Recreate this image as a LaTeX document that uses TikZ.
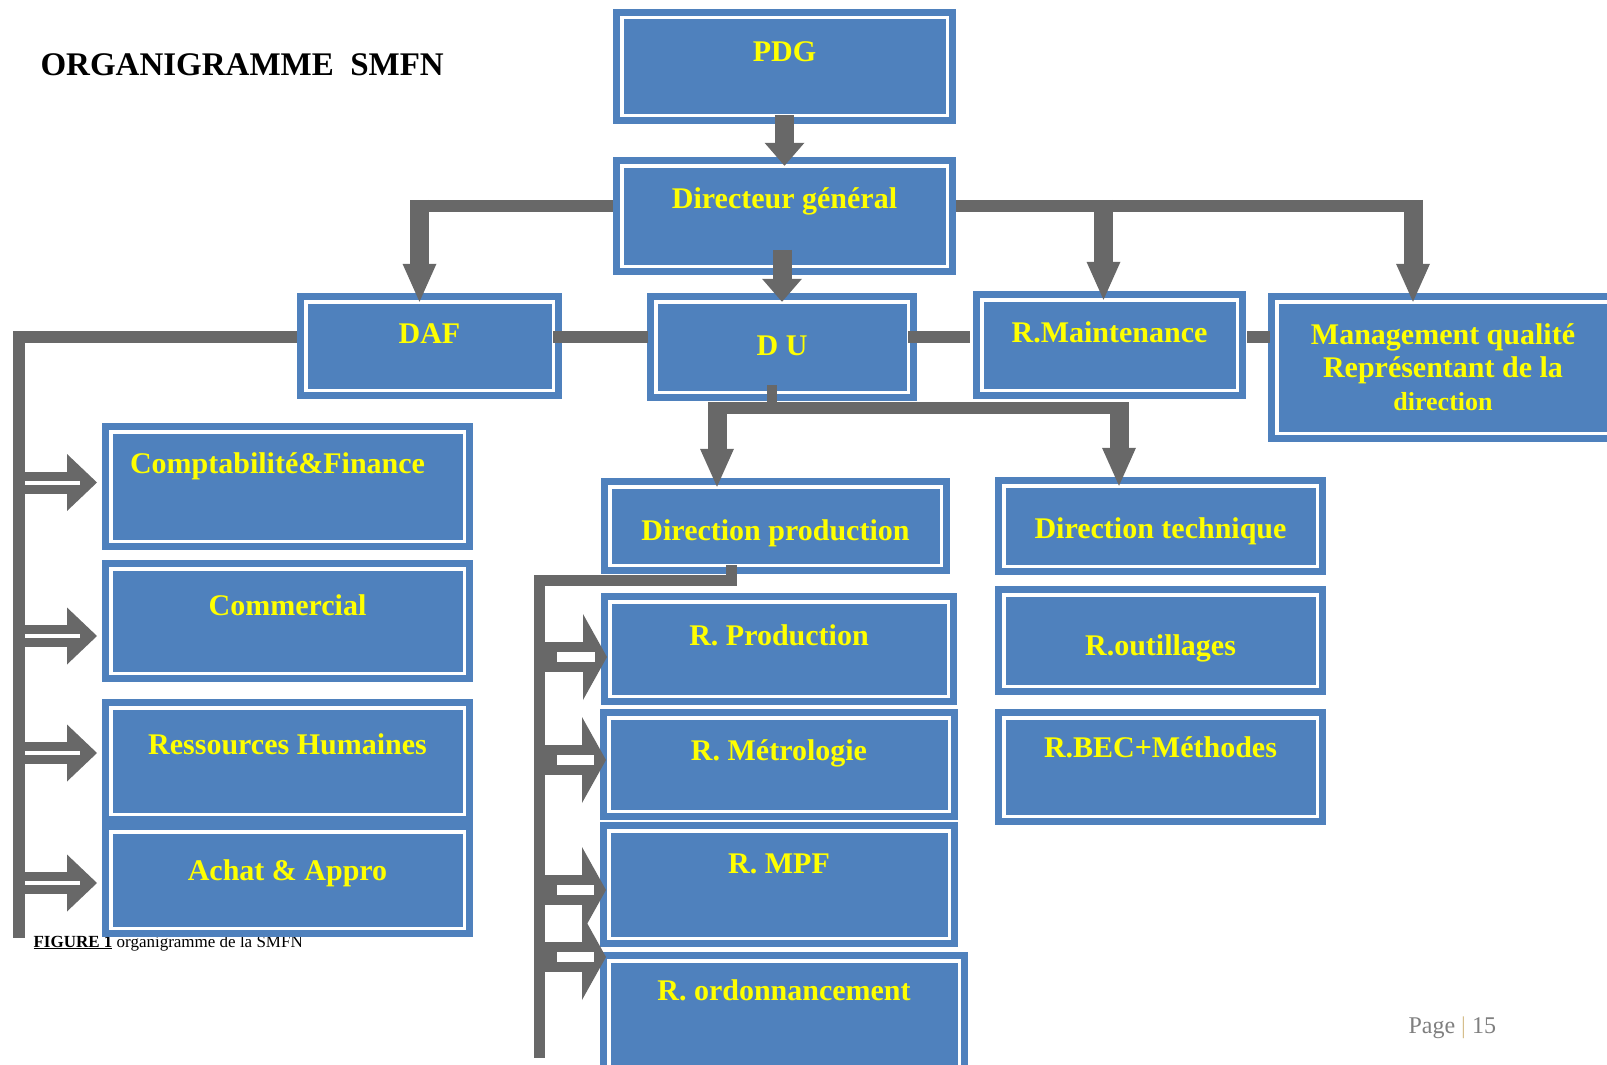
\documentclass[tikz,border=0pt]{standalone}
\usepackage{fontspec}
\setmainfont{Liberation Serif}
\usepackage{tikz}
\usetikzlibrary{arrows.meta,positioning,calc}
\definecolor{boxblue}{RGB}{79,129,189}
\definecolor{boxyellow}{RGB}{255,255,0}
\definecolor{linegray}{RGB}{104,104,104}
\definecolor{pagegray}{RGB}{127,127,127}
\definecolor{bartan}{RGB}{214,190,140}

\begin{document}
\begin{tikzpicture}[x=1pt,y=-1pt,
    box/.style={rectangle,draw=boxblue,fill=boxblue,line width=7pt,double=white,
      double distance=3.5pt,inner sep=0pt,outer sep=0pt,text=boxyellow,
      font=\bfseries\fontsize{30}{33}\selectfont},
    boxsize/.style n args={3}{minimum width=#1,text height=#2,text depth=#3},
    hline/.style={draw=linegray,line width=12pt},
    stub/.style={draw=linegray,line width=10pt},
    sarrow/.style={draw=linegray,line width=19pt,-{Triangle[length=23pt,width=40pt,line width=0pt]}},
    larrow/.style={draw=linegray,line width=19pt,-{Triangle[length=38pt,width=34pt,line width=0pt]}},
    harrow/.style={draw=linegray,line width=22pt,shorten >=13.75pt,-{Triangle[length=30pt,width=57pt,line width=0pt]}},
    parrow/.style={draw=linegray,line width=30pt,shorten >=2.75pt,-{Triangle[length=24pt,width=86pt,line width=0pt]}},
    stripe/.style={draw=white,line width=4pt},
    pstripe/.style={draw=white,line width=10pt}]
    \useasboundingbox (0,0) rectangle (1607,1065);
    \clip (0,0) rectangle (1607,1065);
    \node[anchor=base west,font=\fontsize{17}{20}\selectfont] (fig) at (30,947) {\textbf{\underline{FIGURE 1}} organigramme de la SMFN};

    \node[box,boxsize={325.5pt}{44.25pt}{53.25pt}] (pdg) at (784.5,66.5) {PDG};
    \node[box,boxsize={325.5pt}{42.25pt}{58.25pt}] (dg) at (784.5,216) {Directeur général};
    \node[box,boxsize={247.5pt}{41.25pt}{47.25pt}] (daf) at (429.5,346) {DAF};
    \node[box,boxsize={252.5pt}{53.25pt}{37.25pt}] (du) at (782,347) {D U};
    \node[box,boxsize={255.5pt}{42.25pt}{48.25pt}] (maint) at (1109.5,345) {R.Maintenance};
    \node[box,minimum width=332.5pt,minimum height=131.5pt,align=center] (mq) at (1443,367.5)
      {Management qualité\\Représentant de la\\{\fontsize{26}{30}\selectfont direction}};

    \node[box,boxsize={353.5pt}{41.25pt}{68.25pt}] (compta) at (287.5,486.5) {Comptabilité\&Finance\kern20pt};
    \node[box,boxsize={353.5pt}{46.25pt}{58.25pt},below=27.5pt of compta] (comm) {Commercial};
    \node[box,boxsize={353.5pt}{46.25pt}{60.25pt},below=34.5pt of comm] (rh) {Ressources Humaines};
    \node[box,boxsize={353.5pt}{48.25pt}{48.25pt},below=17.5pt of rh] (achat) {Achat \& Appro};

    \node[box,boxsize={331.5pt}{53.25pt}{25.25pt}] (dprod) at (775.5,526) {Direction production};
    \node[box,boxsize={338.5pt}{43.25pt}{51.25pt}] (rprod) at (779,649) {R. Production};
    \node[box,boxsize={340.5pt}{42.25pt}{51.25pt},below=21.5pt of rprod] (rmet) {R. Métrologie};
    \node[box,boxsize={340.5pt}{42.25pt}{65.25pt},below=19.5pt of rmet] (rmpf) {R. MPF};
    \node[box,boxsize={350.5pt}{39.25pt}{71.25pt},below=22.5pt of rmpf,xshift=5pt] (rordo) {R. ordonnancement};

    \node[box,boxsize={313.5pt}{52.25pt}{28.25pt}] (dtech) at (1160.5,526) {Direction technique};
    \node[box,boxsize={313.5pt}{60.25pt}{31.25pt},below=28.5pt of dtech] (rout) {R.outillages};
    \node[box,boxsize={313.5pt}{39.25pt}{59.25pt},below=31.5pt of rout] (rbec) {R.BEC+Méthodes};

    \draw[sarrow] (pdg.south) -- (dg.north);
    \draw[sarrow] ($(du.north)+(0,-52)$) -- (du.north);

    \coordinate (kdaf) at ($(daf.north)+(-10,-96)$);
    \coordinate (kmq) at ($(mq.north)+(-30,-96)$);
    \coordinate (kmaint) at ($(maint.north |- kmq)+(-6,0)$);
    \draw[hline,shorten >=9pt] (kdaf) -- (kdaf -| dg.west);
    \draw[hline,shorten <=9pt] (kmq -| dg.east) -- (kmq);
    \draw[larrow] ($(kdaf)+(0,-6)$) -- (kdaf |- daf.north);
    \draw[larrow] ($(kmaint)+(0,-6)$) -- (kmaint |- maint.north);
    \draw[larrow] ($(kmq)+(0,-6)$) -- (kmq |- mq.north);

    \coordinate (kmid) at ($(daf.east)+(0,-9)$);
    \draw[hline,shorten >=8pt] (kmid) -- (kmid -| du.west);
    \draw[hline,shorten >=12pt] (kmid -| du.east) -- (kmid -| maint.west);
    \draw[hline,shorten <=10pt,shorten >=7pt] (kmid -| maint.east) -- (kmid -| mq.west);

    \coordinate (busl) at (19,938);
    \draw[hline,shorten <=9pt] (kmid -| daf.west) -| (busl);
    \foreach \b/\dy in {compta/-4,comm/15,rh/-8,achat/3}{
      \coordinate (t) at ($(\b.west)+(0,\dy)$);
      \draw[harrow] (t -| busl) -- (t);
      \draw[stripe] ($(t -| busl)+(6,0)$) -- ($(t)+(-31,0)$);
    }

    \coordinate (kprod) at ($(dprod.north)+(-58.5,-78.75)$);
    \coordinate (ktech) at ($(kprod -| dtech.north)+(-41.5,0)$);
    \coordinate (kdus) at ($(du.south)+(-10,0)$);
    \draw[stub] ($(kdus)+(0,-7)$) -- (kdus |- kprod);
    \draw[hline] ($(kprod)+(-9,0)$) -- ($(ktech)+(9,0)$);
    \draw[larrow] ($(kprod)+(0,-6)$) -- (kprod |- dprod.north);
    \draw[larrow] ($(ktech)+(0,-6)$) -- (ktech |- dtech.north);

    \coordinate (kpbus) at (539,580);
    \coordinate (pbusl) at (539,1058);
    \draw[hline,line width=11pt] ($(dprod.south)+(-44.5,0)$) |- (kpbus) -- (pbusl);
    \foreach \b/\dy in {rprod/8,rmet/-4.5,rmpf/5.5,rordo/-59}{
      \coordinate (t) at ($(\b.west)+(0,\dy)$);
      \draw[parrow] (t -| pbusl) -- (t);
      \draw[pstripe] ($(t -| pbusl)+(18,0)$) -- ($(t)+(-14.75,0)$);
    }

    \node[anchor=base west,font=\bfseries\fontsize{33}{36}\selectfont] (titre) at (37,75) {ORGANIGRAMME\ \ SMFN};
    \node[anchor=base west,text=pagegray,font=\fontsize{24}{28}\selectfont] (page) at (1405,1033) {Page {\color{bartan}|} 15};
  \end{tikzpicture}
\end{document}
